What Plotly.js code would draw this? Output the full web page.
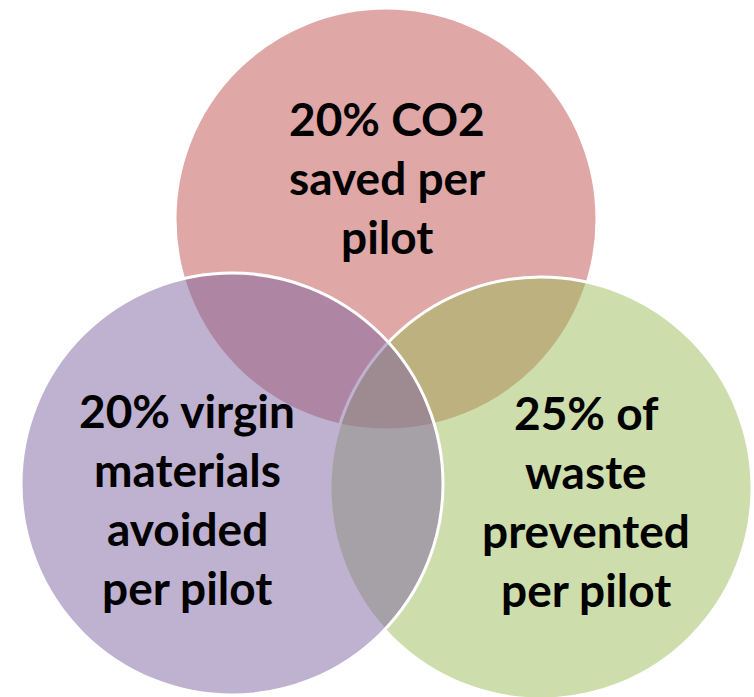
<!DOCTYPE html>
<html>
<head>
<meta charset="utf-8">
<script src="https://cdn.plot.ly/plotly-3.0.1.min.js"></script>
<style>html,body{margin:0;padding:0;background:#fff;}#chart{width:754px;height:697px;}</style>
</head>
<body>
<div id="chart"></div>
<script>
// Venn sets (drawing order: red, green, purple)
const setNames = ["CO2 saved", "Waste prevented", "Virgin materials avoided"];
const centersX = [386, 541, 232];
const centersY = [219, 488, 484];
const radii = [211, 211, 211];
const fillColors = ["rgba(192,80,77,0.5)", "rgba(155,187,89,0.5)", "rgba(128,100,162,0.5)"];
const labelLines = [
  ["20% CO2", "saved per", "pilot"],
  ["25% of", "waste", "prevented", "per pilot"],
  ["20% virgin", "materials", "avoided", "per pilot"]
];
const labelX = [387, 586, 187];
const labelY = [177, 501, 499];
const lineGap = 59;

const shapes = centersX.map((cx, i) => ({
  type: "circle", xref: "x", yref: "y",
  x0: cx - radii[i], x1: cx + radii[i],
  y0: centersY[i] - radii[i], y1: centersY[i] + radii[i],
  fillcolor: fillColors[i],
  line: {color: "#ffffff", width: 3}
}));

const annotations = [];
labelLines.forEach((lines, i) => {
  const n = lines.length;
  lines.forEach((t, j) => {
    annotations.push({
      x: labelX[i], y: labelY[i] + (j - (n - 1) / 2) * lineGap,
      xref: "x", yref: "y", text: "<b>" + t + "</b>", showarrow: false,
      xanchor: "center", yanchor: "middle",
      font: {family: "Lato, 'Open Sans', sans-serif", size: 46, color: "#000000"}
    });
  });
});

const data = [{
  x: centersX, y: centersY, mode: "markers", type: "scatter",
  marker: {opacity: 0}, hoverinfo: "skip", showlegend: false, text: setNames
}];

const layout = {
  width: 754, height: 697,
  margin: {l: 0, r: 0, t: 0, b: 0},
  paper_bgcolor: "#ffffff", plot_bgcolor: "#ffffff",
  xaxis: {range: [0, 754], visible: false, fixedrange: true},
  yaxis: {range: [697, 0], visible: false, fixedrange: true},
  shapes: shapes, annotations: annotations, showlegend: false
};

Plotly.newPlot("chart", data, layout, {displayModeBar: false, staticPlot: true});
</script>
</body>
</html>
